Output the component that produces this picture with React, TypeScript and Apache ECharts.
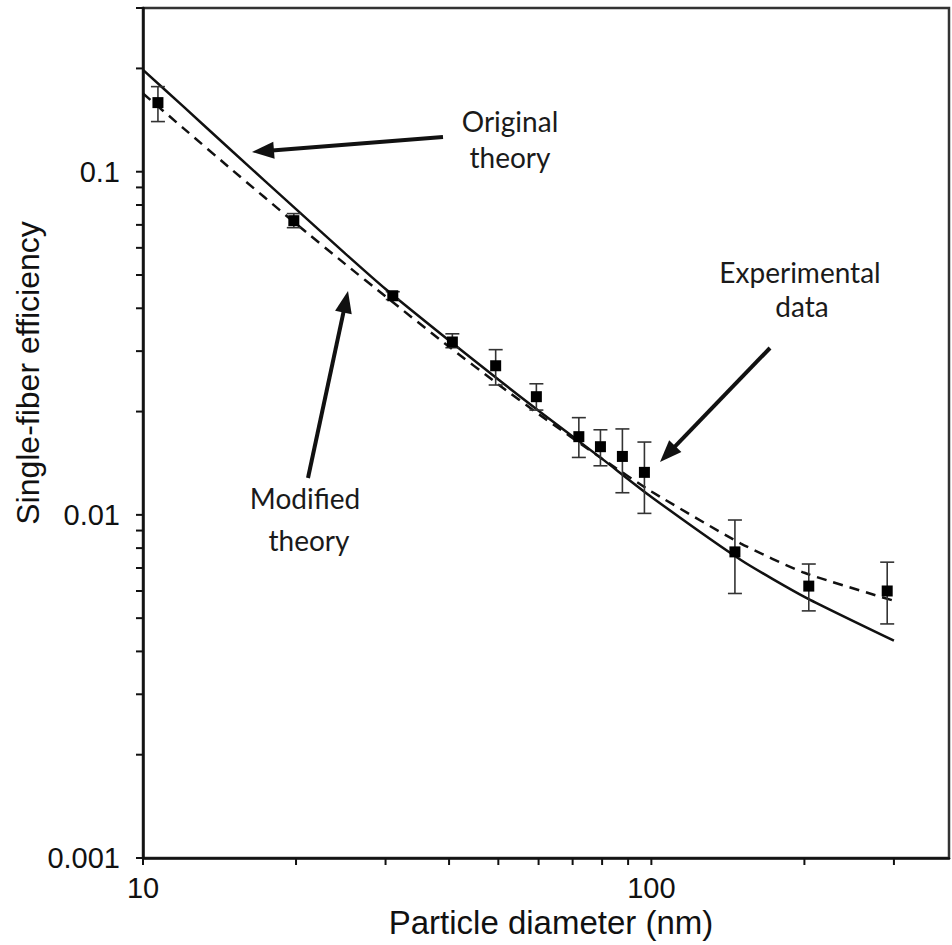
import { useEffect, useRef } from 'react';
import * as echarts from 'echarts';

// Experimental data (particle diameter nm, single-fiber efficiency, error bar low/high)
const expX = [10.7, 19.8, 31, 40.6, 49.4, 59.4, 72, 79.4, 87.7, 96.9, 146, 204, 291];
const expY = [0.159, 0.072, 0.0435, 0.0319, 0.0272, 0.0221, 0.0169, 0.0158, 0.0148, 0.0133, 0.0078, 0.0062, 0.006];
const expLow = [0.14, 0.0687, 0.0424, 0.0307, 0.0239, 0.0202, 0.0147, 0.0139, 0.0116, 0.0101, 0.0059, 0.00525, 0.00481];
const expHigh = [0.177, 0.0755, 0.0447, 0.0337, 0.0303, 0.0241, 0.0192, 0.0177, 0.0178, 0.0163, 0.00966, 0.00719, 0.00728];

// Theory curves
const theoryX = [10, 12, 15, 20, 25, 30, 40, 50, 60, 80, 100, 150, 200, 300];
const originalY = [0.198, 0.155, 0.1145, 0.0778, 0.0577, 0.0455, 0.0322, 0.0248, 0.0201, 0.01456, 0.01128, 0.00739, 0.00577, 0.0043];
const modifiedY = [0.169, 0.134, 0.101, 0.0705, 0.0538, 0.0433, 0.0309, 0.024, 0.01967, 0.01458, 0.0117, 0.00825, 0.00678, 0.00562];

// Axis ranges and tick positions
const X_MIN = 10;
const X_MAX = 385;
const Y_MIN = 0.001;
const Y_MAX = 0.3;
const xTickVals = [10, 20, 30, 40, 50, 60, 70, 80, 90, 100, 200, 300];
const yTickVals = [
  0.001, 0.002, 0.003, 0.004, 0.005, 0.006, 0.007, 0.008, 0.009,
  0.01, 0.02, 0.03, 0.04, 0.05, 0.06, 0.07, 0.08, 0.09,
  0.1, 0.2, 0.3,
];
const xLabels: Record<number, string> = { 1: '10', 2: '100' };
const yLabels: Record<number, string> = { [-3]: '0.001', [-2]: '0.01', [-1]: '0.1' };

const TEXT_FONT = 'Lato, "Open Sans", sans-serif';
const AXIS_FONT = '"Liberation Sans", Arial, sans-serif';

function decadeLabel(v: number, map: Record<number, string>) {
  const l = Math.log10(v);
  const r = Math.round(l);
  if (Math.abs(l - r) < 1e-6 && map[r] !== undefined) return map[r];
  return '';
}

function arrow(tail: [number, number], tip: [number, number]) {
  const dx = tip[0] - tail[0];
  const dy = tip[1] - tail[1];
  const len = Math.sqrt(dx * dx + dy * dy);
  const ux = dx / len;
  const uy = dy / len;
  const hl = 22;
  const hw = 8.5;
  const bx = tip[0] - ux * hl;
  const by = tip[1] - uy * hl;
  const nx = -uy;
  const ny = ux;
  return [
    {
      type: 'line',
      shape: { x1: tail[0], y1: tail[1], x2: bx + ux * 2, y2: by + uy * 2 },
      style: { stroke: '#111', lineWidth: 4 },
    },
    {
      type: 'polygon',
      shape: {
        points: [
          [tip[0], tip[1]],
          [bx + nx * hw, by + ny * hw],
          [bx - nx * hw, by - ny * hw],
        ],
      },
      style: { fill: '#111' },
    },
  ];
}

function txt(text: string, x: number, y: number, size = 28) {
  return {
    type: 'text',
    x,
    y,
    style: {
      text,
      fill: '#1a1a1a',
      font: `${size}px ${TEXT_FONT}`,
      textAlign: 'center',
      textVerticalAlign: 'middle',
    },
  };
}

export default function App() {
  const ref = useRef<HTMLDivElement>(null);

  useEffect(() => {
    document.body.style.margin = '0';
    if (!ref.current) return;
    const chart = echarts.init(ref.current, undefined, { renderer: 'svg' });

    const option: any = {
      animation: false,
      backgroundColor: '#fff',
      grid: {
        left: 143,
        right: 2,
        top: 8,
        bottom: 87,
        show: true,
        borderColor: '#333',
        borderWidth: 2.5,
        backgroundColor: 'transparent',
      },
      xAxis: {
        type: 'log',
        min: X_MIN,
        max: X_MAX,
        logBase: 10,
        axisLine: { show: true, lineStyle: { color: '#111', width: 2.5 } },
        axisTick: { show: false },
        splitLine: { show: false },
        axisLabel: {
          margin: 15,
          fontSize: 29,
          color: '#111',
          fontFamily: AXIS_FONT,
          formatter: (v: number) => decadeLabel(v, xLabels),
        },
      },
      yAxis: {
        type: 'log',
        min: Y_MIN,
        max: Y_MAX,
        logBase: 10,
        axisLine: { show: true, lineStyle: { color: '#111', width: 2.5 } },
        axisTick: { show: false },
        splitLine: { show: false },
        axisLabel: {
          margin: 23,
          fontSize: 29,
          color: '#111',
          fontFamily: AXIS_FONT,
          formatter: (v: number) => decadeLabel(v, yLabels),
        },
      },
      series: [
        {
          name: 'Original theory',
          type: 'line',
          data: theoryX.map((x, i) => [x, originalY[i]]),
          showSymbol: false,
          smooth: 0.2,
          lineStyle: { color: '#111', width: 2.5, type: 'solid' },
          z: 3,
        },
        {
          name: 'Modified theory',
          type: 'line',
          data: theoryX.map((x, i) => [x, modifiedY[i]]),
          showSymbol: false,
          smooth: 0.2,
          lineStyle: { color: '#111', width: 2.5, type: [10, 7] },
          z: 3,
        },
        {
          name: 'Error bars',
          type: 'custom',
          data: expX.map((x, i) => [x, expLow[i], expHigh[i]]),
          encode: { x: 0, y: [1, 2] },
          z: 4,
          renderItem: (_params: any, api: any) => {
            const x = api.value(0);
            const lo = api.coord([x, api.value(1)]);
            const hi = api.coord([x, api.value(2)]);
            const w = 7;
            const st = { stroke: '#333', lineWidth: 1.6 };
            return {
              type: 'group',
              children: [
                { type: 'line', shape: { x1: hi[0], y1: hi[1], x2: lo[0], y2: lo[1] }, style: st },
                { type: 'line', shape: { x1: hi[0] - w, y1: hi[1], x2: hi[0] + w, y2: hi[1] }, style: st },
                { type: 'line', shape: { x1: lo[0] - w, y1: lo[1], x2: lo[0] + w, y2: lo[1] }, style: st },
              ],
            };
          },
        },
        {
          name: 'Experimental data',
          type: 'scatter',
          data: expX.map((x, i) => [x, expY[i]]),
          symbol: 'rect',
          symbolSize: 11,
          itemStyle: { color: '#000', opacity: 1 },
          z: 5,
        },
        {
          name: 'x ticks',
          type: 'custom',
          data: xTickVals.map((v) => [v, Y_MIN]),
          encode: { x: 0, y: 1 },
          clip: false,
          silent: true,
          z: 6,
          renderItem: (_params: any, api: any) => {
            const p = api.coord([api.value(0), api.value(1)]);
            return {
              type: 'line',
              shape: { x1: p[0], y1: p[1], x2: p[0], y2: p[1] + 7 },
              style: { stroke: '#111', lineWidth: 2 },
            };
          },
        },
        {
          name: 'y ticks',
          type: 'custom',
          data: yTickVals.map((v) => [X_MIN, v]),
          encode: { x: 0, y: 1 },
          clip: false,
          silent: true,
          z: 6,
          renderItem: (_params: any, api: any) => {
            const p = api.coord([api.value(0), api.value(1)]);
            return {
              type: 'line',
              shape: { x1: p[0] - 7, y1: p[1], x2: p[0], y2: p[1] },
              style: { stroke: '#111', lineWidth: 2 },
            };
          },
        },
      ],
      graphic: [
        ...arrow([443, 137], [252, 152]),
        ...arrow([308, 478], [348, 291]),
        ...arrow([770, 348], [660, 462]),
        txt('Original', 510, 121),
        txt('theory', 510, 157),
        txt('Experimental', 800, 272),
        txt('data', 802, 306),
        txt('Modified', 305, 498),
        txt('theory', 309, 540),
        {
          type: 'text',
          x: 551,
          y: 922,
          style: {
            text: 'Particle diameter (nm)',
            fill: '#111',
            font: `33px ${AXIS_FONT}`,
            textAlign: 'center',
            textVerticalAlign: 'middle',
          },
        },
        {
          type: 'text',
          x: 28,
          y: 373,
          rotation: Math.PI / 2,
          style: {
            text: 'Single-fiber efficiency',
            fill: '#111',
            font: `32px ${AXIS_FONT}`,
            textAlign: 'center',
            textVerticalAlign: 'middle',
          },
        },
      ],
    };

    chart.setOption(option);
    return () => {
      chart.dispose();
    };
  }, []);

  return <div ref={ref} style={{ width: 952, height: 945 }} />;
}
